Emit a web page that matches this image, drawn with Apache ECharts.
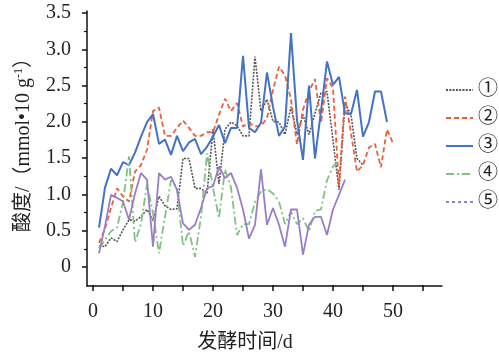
<!DOCTYPE html>
<html><head><meta charset="utf-8">
<script src="https://cdn.jsdelivr.net/npm/echarts@6/dist/echarts.min.js"></script>
<style>html,body{margin:0;padding:0;background:#fff}#c{width:499px;height:358px}</style>
</head><body><div id="c"></div>
<script>
// Series names (legend)
const seriesNames = ['①', '②', '③', '④', '⑤'];
// Values by fermentation day, starting at day 1
const s1 = [0.3,0.29,0.41,0.36,0.52,0.66,0.64,0.7,0.8,0.65,0.98,0.85,0.8,0.81,1.5,1.5,1.09,1.09,1.02,1.9,1.15,1.9,2.0,1.95,1.81,1.81,2.9,2.15,2.31,2.01,2.0,1.83,2.21,1.83,2.1,1.83,2.12,2.4,2.42,1.75,1.07,2.26,2.1,1.5,1.41];
const s2 = [0.34,0.54,0.82,1.09,0.98,0.91,1.32,1.41,1.62,2.15,2.2,1.81,1.81,1.92,2.02,1.92,1.81,1.81,1.86,1.86,2.1,2.32,2.15,2.26,1.94,1.99,1.94,1.95,2.05,2.44,2.76,2.64,2.31,1.69,2.17,2.42,2.59,1.99,2.6,2.47,1.12,2.35,1.85,1.32,1.41,1.65,1.7,1.38,1.9,1.71];
const s3 = [0.55,1.1,1.36,1.27,1.45,1.41,1.58,1.8,2.0,2.11,1.7,1.76,1.55,1.81,1.6,1.72,1.77,1.56,1.66,1.8,1.96,1.71,1.92,1.92,2.91,1.92,1.86,1.99,2.68,2.21,1.81,1.94,3.22,2.03,1.48,2.5,1.5,2.15,2.83,2.51,2.62,2.12,2.11,2.44,1.8,2.0,2.42,2.42,2.0];
const s4 = [0.27,0.38,0.5,0.55,0.9,1.53,0.35,0.6,1.15,0.75,0.2,0.7,1.2,1.1,0.3,0.5,0.15,0.7,1.57,1.1,0.68,1.35,1.1,0.45,0.6,0.6,0.9,1.05,1.08,1.02,0.91,0.6,0.77,0.6,0.68,0.5,0.78,0.8,1.2,1.39,1.46];
const s5 = [0.2,0.57,1.0,0.96,0.91,0.66,1.02,1.3,1.21,0.29,1.3,1.21,1.25,1.07,0.61,0.52,0.59,0.82,1.09,1.12,1.39,1.23,1.3,1.1,0.8,0.4,0.59,1.35,0.59,0.82,0.59,0.29,0.8,0.8,0.18,0.59,0.7,0.7,0.45,0.8,1.0,1.21];
// Tick labels
const xTickLabels = ['0', '10', '20', '30', '40', '50'];
const yTickLabels = ['0', '0.5', '1.0', '1.5', '2.0', '2.5', '3.0', '3.5'];

const allValues = [s1, s2, s3, s4, s5];
const colors = ['#555555', '#e8603c', '#4472c4', '#7cc47f', '#9a7fc8'];
const dashTypes = [[2, 1.3], [5, 3], 'solid', [8, 3, 2, 3], 'solid'];
const widths = [1.6, 1.8, 2, 1.8, 1.8];
const serif = "'Liberation Serif', 'Noto Sans CJK SC', serif";

const series = allValues.map((vals, k) => ({
  name: seriesNames[k],
  type: 'line',
  xAxisIndex: 0,
  yAxisIndex: 0,
  symbol: 'none',
  data: vals.map((v, i) => [i + 1, v]),
  lineStyle: { color: colors[k], width: widths[k], type: dashTypes[k] },
  itemStyle: { color: colors[k] },
  z: 2 + k
}));

const chart = echarts.init(document.getElementById('c'), null, { renderer: 'canvas' });
chart.setOption({
  animation: false,
  backgroundColor: '#fff',
  grid: [
    { left: 87, right: 57, top: 11, bottom: 72 },
    { left: 93, right: 76, top: 13, bottom: 90 }
  ],
  legend: {
    orient: 'vertical', left: 440, top: 75,
    itemWidth: 27, itemHeight: 14, itemGap: 8,
    itemStyle: { opacity: 0 },
    textStyle: { fontSize: 20, fontFamily: serif, color: '#222' },
    data: seriesNames.map((n, k) => k === 4
      ? { name: n, itemStyle: { opacity: 0 }, lineStyle: { type: [3, 3] } }
      : { name: n, itemStyle: { opacity: 0 } })
  },
  xAxis: [
    { gridIndex: 0, type: 'value', min: -1, max: 58.17,
      axisLine: { show: true, onZero: false, lineStyle: { color: '#111', width: 1.5 } },
      axisTick: { show: false }, axisLabel: { show: false }, splitLine: { show: false } },
    { gridIndex: 1, type: 'value', min: 0, max: 55, interval: 5, offset: 18,
      axisLine: { show: false, onZero: false },
      axisTick: { show: true, length: 6, lineStyle: { color: '#111', width: 1.5 } },
      axisLabel: { margin: 17, fontSize: 20, fontFamily: serif, color: '#222',
        formatter: v => xTickLabels.includes(String(v)) ? String(v) : '' },
      splitLine: { show: false },
      name: '发酵时间/d', nameLocation: 'middle', nameGap: 48,
      nameTextStyle: { fontSize: 20, fontFamily: serif, color: '#222', padding: [0, 26, 0, 0] } }
  ],
  yAxis: [
    { gridIndex: 0, type: 'value', min: -0.25, max: 3.524,
      axisLine: { show: true, onZero: false, lineStyle: { color: '#111', width: 1.5 } },
      axisTick: { show: false }, axisLabel: { show: false }, splitLine: { show: false } },
    { gridIndex: 1, type: 'value', min: 0, max: 3.5, interval: 0.5, offset: 6,
      axisLine: { show: false, onZero: false },
      axisTick: { show: true, length: 5, lineStyle: { color: '#111', width: 1.5 } },
      minorTick: { show: true, splitNumber: 2, length: 3, lineStyle: { color: '#111', width: 1.2 } },
      axisLabel: { margin: 16, fontSize: 20, fontFamily: serif, color: '#222',
        formatter: v => { const i = Math.round(v / 0.5); return Math.abs(v - i * 0.5) < 1e-6 ? (yTickLabels[i] || '') : ''; } },
      splitLine: { show: false },
      name: '{a|酸度/（mmol•10 g}{s|-1}{a|）}', nameLocation: 'middle', nameGap: 52, nameRotate: 90,
      nameTextStyle: { fontFamily: serif, color: '#222',
        rich: {
          a: { fontSize: 20, fontFamily: serif, color: '#222', lineHeight: 22 },
          s: { fontSize: 12, fontFamily: serif, color: '#222', verticalAlign: 'top', lineHeight: 22 }
        } } }
  ],
  series: series
});
</script>
</body></html>
